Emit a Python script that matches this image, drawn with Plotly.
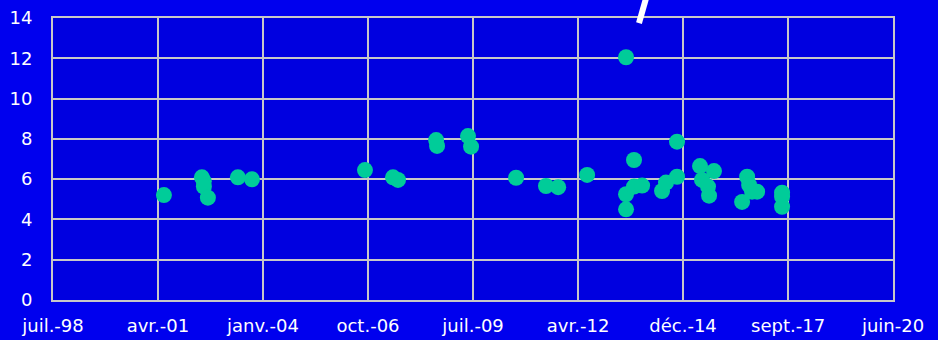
import plotly.graph_objects as go

# Measurement dates and values
dates = [
    "2001-06-15",
    "2002-06-12", "2002-06-30", "2002-07-01", "2002-08-08",
    "2003-05-21", "2003-10-02",
    "2006-09-13", "2007-06-07", "2007-07-25",
    "2008-07-22", "2008-07-31", "2009-05-22", "2009-06-20",
    "2010-08-23", "2011-06-04", "2011-09-28", "2012-06-30",
    "2013-07-06", "2013-07-06", "2013-07-06",
    "2013-09-20", "2013-09-20", "2013-12-06",
    "2014-06-14", "2014-07-22", "2014-11-04", "2014-11-04",
    "2015-06-11", "2015-06-30", "2015-08-26", "2015-09-05", "2015-10-22",
    "2016-07-16", "2016-09-02", "2016-09-21", "2016-10-19", "2016-12-06",
    "2017-08-01", "2017-08-01", "2017-08-01",
]
values = [
    5.21,
    6.09, 5.90, 5.63, 5.08,
    6.09, 5.99,
    6.45, 6.09, 5.96,
    7.94, 7.65, 8.14, 7.61,
    6.07, 5.66, 5.60, 6.21,
    12.05, 5.25, 4.50,
    6.95, 5.63, 5.68,
    5.41, 5.83, 6.12, 7.86,
    6.65, 5.96, 5.63, 5.18, 6.40,
    4.87, 6.12, 5.71, 5.38, 5.38,
    5.33, 5.13, 4.63,
]

# Axis ticks (every 1000 days)
tick_dates = ["1998-07-24", "2001-04-19", "2004-01-15", "2006-10-12", "2009-07-09",
              "2012-04-05", "2014-12-31", "2017-09-27", "2020-06-23"]
tick_labels = ["juil.-98", "avr.-01", "janv.-04", "oct.-06", "juil.-09",
               "avr.-12", "déc.-14", "sept.-17", "juin-20"]
y_ticks = [0, 2, 4, 6, 8, 10, 12, 14]

grid_color = "#C8C8C8"
font = dict(family="DejaVu Sans", size=18, color="white")

fig = go.Figure()
fig.add_trace(go.Scatter(
    x=dates, y=values, mode="markers",
    marker=dict(color="#00CC99", size=16, line=dict(width=0)),
    hoverinfo="x+y",
))

fig.update_layout(
    width=938, height=340,
    margin=dict(l=53, r=45, t=18, b=40),
    paper_bgcolor="#0000EE",
    plot_bgcolor="#0000E0",
    showlegend=False,
    font=font,
    xaxis=dict(
        type="date", automargin=False,
        range=[tick_dates[0], tick_dates[-1]],
        tickvals=tick_dates, ticktext=tick_labels,
        showgrid=True, gridcolor=grid_color, gridwidth=2,
        showline=True, linecolor=grid_color, linewidth=2, mirror=True,
        zeroline=False, ticks="", tickfont=font, ticklabelstandoff=8,
    ),
    yaxis=dict(
        range=[0, 14], tickvals=y_ticks, automargin=False,
        showgrid=True, gridcolor=grid_color, gridwidth=2,
        showline=True, linecolor=grid_color, linewidth=2, mirror=True,
        zeroline=False, ticks="", tickfont=font, ticklabelstandoff=15,
    ),
    shapes=[dict(
        type="line", xref="paper", yref="paper",
        x0=0.6976, y0=0.982, x1=0.706, y1=1.07,
        line=dict(color="white", width=6),
    )],
)

fig.write_html("out.html")
